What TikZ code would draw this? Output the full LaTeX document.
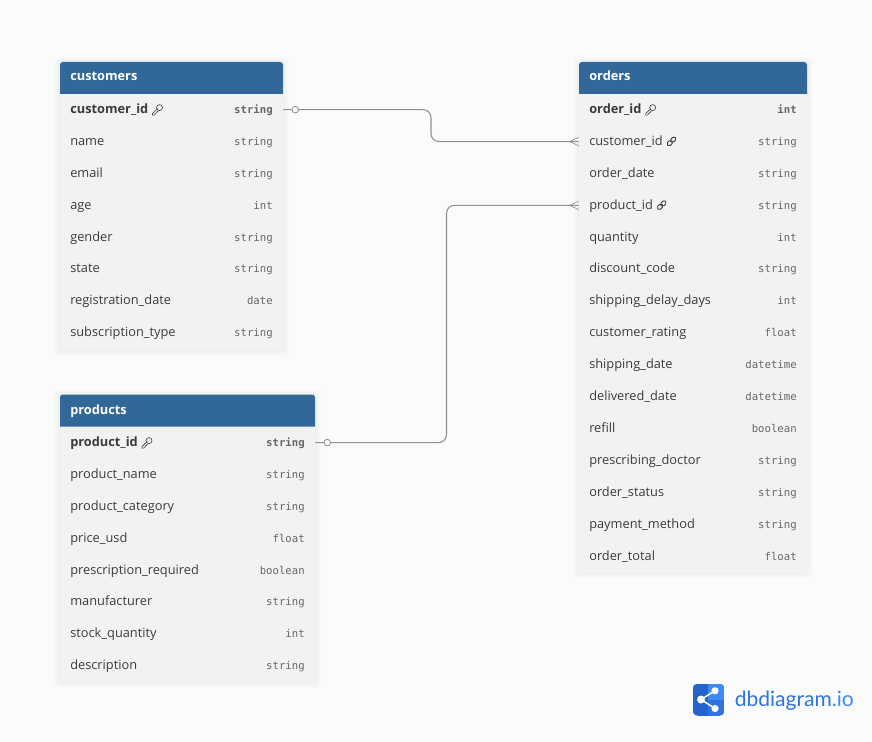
\documentclass[tikz,border=0pt]{standalone}
\usepackage{fontspec}
\setmainfont{Open Sans}
\setmonofont{DejaVu Sans Mono}
\newfontfamily\logofont{Lato}
\definecolor{pagebg}{HTML}{FBFBFC}
\definecolor{headblue}{HTML}{316897}
\definecolor{rowgrey}{HTML}{F2F2F2}
\definecolor{nametext}{HTML}{3B3B3B}
\definecolor{typetext}{HTML}{666666}
\definecolor{relgrey}{HTML}{8C8F96}
\definecolor{logodark}{HTML}{2563CC}
\definecolor{logomid}{HTML}{2F74DE}
\definecolor{logolight}{HTML}{3D8BF2}
\tikzset{
	rowbox/.style={rectangle, fill=rowgrey, inner sep=0pt, minimum height=24pt},
	headname/.style={anchor=base west, inner sep=0pt, text=white, font=\fontsize{9.6}{12}\selectfont\bfseries},
	fieldname/.style={anchor=base west, inner sep=0pt, text=nametext, font=\fontsize{9.6}{12}\selectfont},
	fieldtype/.style={anchor=base east, inner sep=0pt, text=typetext, font=\fontsize{8}{12}\selectfont\ttfamily},
	relline/.style={draw=relgrey, line width=0.8pt},
	onedot/.style={circle, draw=relgrey, fill=pagebg, line width=0.6pt, inner sep=0pt, minimum size=5pt},
	softshadow/.style={fill=black, opacity=0.009, rounded corners=3pt},
	keyicon/.pic={
		\draw[nametext, line width=0.45pt] (2.4,-2.4) circle (3);
		\draw[nametext, line width=0.45pt] (0.6,-1.4) -- (-4.6,3.6) -- (-4.6,5.2) -- (-3,5.2) -- (1.4,0.6);
	},
	linkicon/.pic={
		\draw[nametext, line width=0.7pt, rotate=45, rounded corners=1.3pt] (-5.4,-2) rectangle (0.6,2);
		\draw[nametext, line width=0.7pt, rotate=45, rounded corners=1.3pt] (-0.6,-2) rectangle (5.4,2);
	},
}
\begin{document}
\begin{tikzpicture}[x=0.75pt, y=-0.75pt]
	
	% Page
	\fill[pagebg] (0,0) rectangle (872,742);
	\useasboundingbox (0,0) rectangle (872,742);
	
	% Shadows
	\foreach \s in {1,2,3,4,5,6} {
		\fill[softshadow] (60-\s,62-\s+1) rectangle (283+\s,349+\s+1);
		\fill[softshadow] (579-\s,62-\s+1) rectangle (807+\s,572+\s+1);
		\fill[softshadow] (60-\s,394-\s+1) rectangle (315+\s,681+\s+1);
	}
	
	% customers
	\fill[headblue] (60,94) [rounded corners=2.2pt] -- (60,62) -- (283,62) [sharp corners] -- (283,94) -- cycle;
	\node[headname] (customersHead) at (70,81) {customers};
	\foreach \n/\t [count=\i] in {\textbf{customer\_id}/\textbf{string}, name/string, email/string, age/int, gender/string, state/string, registration\_date/date, subscription\_type/string} {
		\pgfmathsetmacro{\y}{93.7+31.9*(\i-0.5)}
		\node[rowbox, minimum width=167.25pt] (customers\i) at (171.5,\y) {};
		\node[fieldname] (customers\i name) at (70,\y+3.8) {\n};
		\node[fieldtype] (customers\i type) at (273,\y+3.8) {\t};
	}
	\pic at ([xshift=6.4pt,yshift=2.6pt]customers1name.base east) {keyicon};
	
	% products
	\fill[headblue] (60,426.7) [rounded corners=2.2pt] -- (60,394.5) -- (315,394.5) [sharp corners] -- (315,426.7) -- cycle;
	\node[headname] (productsHead) at (70,414) {products};
	\foreach \n/\t [count=\i] in {\textbf{product\_id}/\textbf{string}, product\_name/string, product\_category/string, price\_usd/float, prescription\_required/boolean, manufacturer/string, stock\_quantity/int, description/string} {
		\pgfmathsetmacro{\y}{426.7+31.9*(\i-0.5)}
		\node[rowbox, minimum width=191.25pt] (products\i) at (187.5,\y) {};
		\node[fieldname] (products\i name) at (70,\y+3.8) {\n};
		\node[fieldtype] (products\i type) at (305,\y+3.8) {\t};
	}
	\pic at ([xshift=6.4pt,yshift=2.6pt]products1name.base east) {keyicon};
	
	% orders
	\fill[headblue] (579,94) [rounded corners=2.2pt] -- (579,62) -- (807,62) [sharp corners] -- (807,94) -- cycle;
	\node[headname] (ordersHead) at (589,81) {orders};
	\foreach \n/\t [count=\i] in {\textbf{order\_id}/\textbf{int}, customer\_id/string, order\_date/string, product\_id/string, quantity/int, discount\_code/string, shipping\_delay\_days/int, customer\_rating/float, shipping\_date/datetime, delivered\_date/datetime, refill/boolean, prescribing\_doctor/string, order\_status/string, payment\_method/string, order\_total/float} {
		\pgfmathsetmacro{\y}{93.7+31.9*(\i-0.5)}
		\node[rowbox, minimum width=171pt] (orders\i) at (693,\y) {};
		\node[fieldname] (orders\i name) at (589,\y+3.8) {\n};
		\node[fieldtype] (orders\i type) at (797,\y+3.8) {\t};
	}
	\pic at ([xshift=6.4pt,yshift=2.6pt]orders1name.base east) {keyicon};
	\pic at ([xshift=6.4pt,yshift=3pt]orders2name.base east) {linkicon};
	\pic at ([xshift=6.4pt,yshift=3pt]orders4name.base east) {linkicon};
	
	% Relations
	\draw[relline, rounded corners=6pt] (customers1.east) -- (431,0 |- customers1.east) -- (431,0 |- orders2.west) -- (orders2.west);
	\draw[relline, rounded corners=6pt] (products1.east) -- (446.5,0 |- products1.east) -- (446.5,0 |- orders4.west) -- (orders4.west);
	\node[onedot] (customersDot) at ([xshift=9pt]customers1.east) {};
	\node[onedot] (productsDot) at ([xshift=9pt]products1.east) {};
	
	% Crow feet
	\draw[relline, line width=0.5pt] ([yshift=3.2pt]orders2.west) -- ([xshift=-6.8pt]orders2.west) -- ([yshift=-3.2pt]orders2.west);
	\draw[relline, line width=0.5pt] ([yshift=3.2pt]orders4.west) -- ([xshift=-6.8pt]orders4.west) -- ([yshift=-3.2pt]orders4.west);
	
	% Logo
	\begin{scope}
		\clip[rounded corners=4pt] (692.5,683.5) rectangle (724.5,715.8);
		\fill[logodark] (692.5,683.5) rectangle (724.5,715.8);
		\fill[logolight] (708,683.5) rectangle (724.5,699.5);
		\fill[logomid] (708,699.5) rectangle (724.5,715.8);
	\end{scope}
	\draw[white, line width=1.1pt] (715,690.8) -- (701,699.5) -- (715,708.5);
	\fill[white] (701,699.5) circle (4) (715,690.8) circle (3.6) (715,708.5) circle (3.6);
	\node[anchor=base west, inner sep=0pt, text=logomid, font=\logofont\fontsize{15.8}{18}\selectfont] (logoText) at (734.5,706.5) {dbdiagram\textcolor{logolight}{.io}};
	
\end{tikzpicture}
\end{document}
